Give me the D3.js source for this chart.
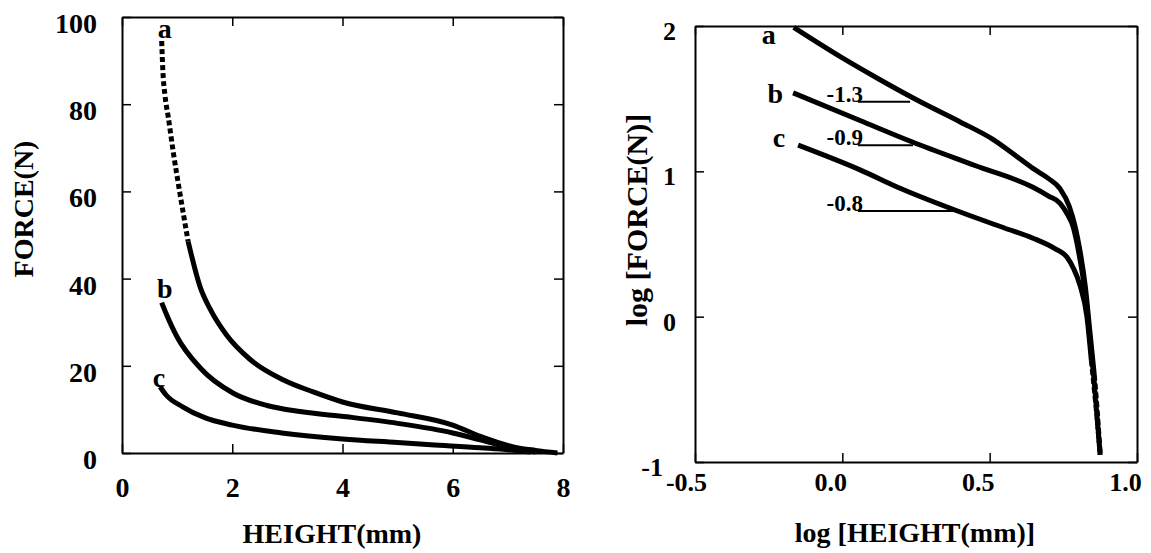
<!DOCTYPE html>
<html>
<head>
<meta charset="utf-8">
<title>force-height</title>
<style>
body { margin: 0; background: #fff; }
svg { display: block; font-family: "Liberation Serif", "Times New Roman", serif; font-weight: bold; }
.domain { stroke: #000; stroke-width: 2px; }
.tick line { stroke: #000; stroke-width: 1.5px; }
.curve { fill: none; stroke: #000; stroke-width: 5px; stroke-linejoin: round; }
.dotted { stroke-dasharray: 5, 3; }
.slope { stroke: #000; stroke-width: 2px; }
</style>
</head>
<body>
<script src="https://cdn.jsdelivr.net/npm/d3@7"></script>
<script>
/* Left panel: force against height, one array pair per sample (a, b, c) */
var heightA = [0.72, 0.74, 0.78, 0.84, 0.93, 1.05, 1.2, 1.42, 1.6, 1.9, 2.32, 2.92, 3.47, 4.0, 5.0, 6.0, 6.5, 7.1, 7.5, 7.9];
var forceA  = [94.5, 88, 82, 77, 69, 59.6, 48.5, 38, 33, 27, 21.5, 16.8, 14, 11.7, 9.2, 6.4, 3.8, 1.4, 0.6, 0];
var heightB = [0.72, 0.8, 1.0, 1.42, 2.02, 2.63, 3.23, 4.08, 5.0, 6.0, 6.5, 7.0, 7.5];
var forceB  = [34.5, 32, 26.6, 19.5, 13.7, 10.9, 9.5, 8.3, 6.8, 4.6, 3.0, 1.4, 0.2];
var heightC = [0.69, 0.8, 1.1, 1.5, 2.0, 2.9, 4.0, 5.0, 5.6, 6.5, 7.2, 7.4];
var forceC  = [15.2, 13.3, 10.6, 8.1, 6.4, 4.6, 3.2, 2.4, 1.9, 1.2, 0.5, 0.2];

/* Right panel: the same curves on log-log axes */
var logHeightA = [-0.165, 0.0, 0.128, 0.263, 0.4, 0.511, 0.6, 0.647, 0.7, 0.739, 0.77, 0.79, 0.806, 0.825, 0.84, 0.855, 0.865, 0.875];
var logForceA  = [1.99, 1.78, 1.63, 1.48, 1.34, 1.22, 1.09, 1.02, 0.95, 0.88, 0.76, 0.62, 0.46, 0.2, -0.1, -0.4, -0.65, -0.95];
var logHeightB = [-0.167, 0.06, 0.24, 0.45, 0.647, 0.7, 0.739, 0.765, 0.783, 0.806, 0.825, 0.84, 0.855, 0.865, 0.875];
var logForceB  = [1.54, 1.35, 1.2, 1.04, 0.89, 0.83, 0.78, 0.7, 0.62, 0.4, 0.15, -0.15, -0.45, -0.7, -0.95];
var logHeightC = [-0.15, 0.06, 0.2, 0.4, 0.55, 0.647, 0.72, 0.762, 0.785, 0.806, 0.83, 0.845, 0.86, 0.875];
var logForceC  = [1.18, 1.01, 0.88, 0.72, 0.61, 0.54, 0.47, 0.41, 0.33, 0.22, 0.0, -0.3, -0.6, -0.95];

/* Slope markers on the log panel */
var slopeText   = ["-1.3", "-0.9", "-0.8"];
var slopeLogF   = [1.478, 1.18, 0.727];
var slopeFromX  = [0.053, 0.053, 0.053];
var slopeToX    = [0.23, 0.24, 0.376];

var curveNames = ["a", "b", "c"];
var leftXTicks = [0, 2, 4, 6, 8];
var leftYTicks = [0, 20, 40, 60, 80, 100];
var rightXTicks = [-0.5, 0.0, 0.5, 1.0];
var rightYTicks = [-1, 0, 1, 2];

/* pixel nudges for the a/b/c labels, relative to each curve's first point */
var leftLabelNudge = [[3, -3], [3, -5], [-1, 0]];
var rightLabelNudge = [[-18, 17], [-10, 10], [-13, 2]];

function zip(xs, ys) { return xs.map(function (x, i) { return [x, ys[i]]; }); }

var leftSeries = [zip(heightA, forceA), zip(heightB, forceB), zip(heightC, forceC)];
var rightSeries = [zip(logHeightA, logForceA), zip(logHeightB, logForceB), zip(logHeightC, logForceC)];

var svg = d3.select("body").append("svg")
    .attr("width", 1151)
    .attr("height", 553);

var font = "'Liberation Serif', 'Times New Roman', serif";

/* Boxed frame: labelled bottom/left axes, bare top/right axes, all ticks pointing inward */
function frame(x, y, xTicks, yTicks, fmtX, fmtY, size, xPad, yPad, yDy, xDx) {
    var bottom = svg.append("g")
        .attr("transform", "translate(0," + y.range()[0] + ")")
        .call(d3.axisBottom(x).tickValues(xTicks).tickSizeInner(-9).tickSizeOuter(0).tickPadding(xPad).tickFormat(fmtX))
        .attr("font-family", font).attr("font-size", size);
    bottom.selectAll("text").attr("dx", xDx);
    var left = svg.append("g")
        .attr("transform", "translate(" + x.range()[0] + ",0)")
        .call(d3.axisLeft(y).tickValues(yTicks).tickSizeInner(-9).tickSizeOuter(0).tickPadding(yPad).tickFormat(fmtY))
        .attr("font-family", font).attr("font-size", size);
    left.selectAll("text").attr("dy", yDy);
    svg.append("g")
        .attr("transform", "translate(0," + y.range()[1] + ")")
        .call(d3.axisTop(x).tickValues(xTicks).tickSizeInner(-9).tickSizeOuter(0).tickFormat(""));
    svg.append("g")
        .attr("transform", "translate(" + x.range()[1] + ",0)")
        .call(d3.axisRight(y).tickValues(yTicks).tickSizeInner(-9).tickSizeOuter(0).tickFormat(""));
    return { bottom: bottom, left: left };
}

/* ---------- left panel ---------- */
var xL = d3.scaleLinear().domain([0, 8]).range([122, 563]);
var yL = d3.scaleLinear().domain([0, 100]).range([453, 17]);

frame(xL, yL, leftXTicks, leftYTicks, d3.format("d"), d3.format("d"), 28, 24, 25, "0.55em", 0);

var lineL = d3.line()
    .curve(d3.curveMonotoneX)
    .x(function (d) { return xL(d[0]); })
    .y(function (d) { return yL(d[1]); });

leftSeries.forEach(function (pts, i) {
    /* the steep top of a curve is sparse in the original: draw it as square dots */
    var k = -1;
    pts.forEach(function (p, j) { if (p[1] >= 48) k = j; });
    if (k >= 0) {
        svg.append("path").attr("class", "curve dotted").attr("d", lineL(pts.slice(0, k + 1)));
        svg.append("path").attr("class", "curve").attr("d", lineL(pts.slice(k)));
    } else {
        svg.append("path").attr("class", "curve").attr("d", lineL(pts));
    }
    svg.append("text")
        .attr("x", xL(pts[0][0]) + leftLabelNudge[i][0])
        .attr("y", yL(pts[0][1]) + leftLabelNudge[i][1])
        .attr("text-anchor", "middle")
        .style("font-size", "28px")
        .text(curveNames[i]);
});

svg.append("text")
    .attr("x", 332).attr("y", 543)
    .attr("text-anchor", "middle")
    .style("font-size", "28px")
    .text("HEIGHT(mm)");

svg.append("text")
    .attr("transform", "translate(33,209) rotate(-90)")
    .attr("text-anchor", "middle")
    .style("font-size", "28px")
    .text("FORCE(N)");

/* ---------- right panel ---------- */
var xR = d3.scaleLinear().domain([-0.5, 1.0]).range([695, 1137]);
var yR = d3.scaleLinear().domain([-1, 2]).range([462, 26]);

var axesR = frame(xR, yR, rightXTicks, rightYTicks, function (d) { return d.toFixed(1); }, function (d) { return String(d); }, 26, 11, 19, "0.52em", -12);
/* the -1 and -0.5 labels sit side by side at the corner */
axesR.left.selectAll(".tick text").filter(function (d) { return d === -1; }).attr("dx", -13);
axesR.bottom.selectAll(".tick text").filter(function (d) { return d === -0.5; }).attr("dx", -9);

var lineR = d3.line()
    .curve(d3.curveMonotoneX)
    .x(function (d) { return xR(d[0]); })
    .y(function (d) { return yR(d[1]); });

rightSeries.forEach(function (pts, i) {
    /* the near-vertical tail is drawn as broken dashes */
    var k = pts.length;
    pts.forEach(function (p, j) { if (p[1] <= -0.55 && j < k) k = j; });
    svg.append("path").attr("class", "curve").attr("d", lineR(pts.slice(0, k)));
    svg.append("path").attr("class", "curve").attr("stroke-dasharray", "6,3").attr("d", lineR(pts.slice(k - 1)));
    svg.append("text")
        .attr("x", xR(pts[0][0]) + rightLabelNudge[i][0])
        .attr("y", yR(pts[0][1]) + rightLabelNudge[i][1])
        .attr("text-anchor", "end")
        .style("font-size", "28px")
        .text(curveNames[i]);
});

slopeText.forEach(function (t, i) {
    svg.append("line")
        .attr("class", "slope")
        .attr("x1", xR(slopeFromX[i])).attr("x2", xR(slopeToX[i]))
        .attr("y1", yR(slopeLogF[i])).attr("y2", yR(slopeLogF[i]));
    svg.append("text")
        .attr("x", xR(slopeFromX[i]) + 5)
        .attr("y", yR(slopeLogF[i]))
        .attr("text-anchor", "end")
        .style("font-size", "23px")
        .text(t);
});

svg.append("text")
    .attr("x", 915).attr("y", 542)
    .attr("text-anchor", "middle")
    .style("font-size", "28px")
    .text("log [HEIGHT(mm)]");

svg.append("text")
    .attr("transform", "translate(647,220) rotate(-90)")
    .attr("text-anchor", "middle")
    .style("font-size", "30px")
    .text("log [FORCE(N)]");
</script>
</body>
</html>
